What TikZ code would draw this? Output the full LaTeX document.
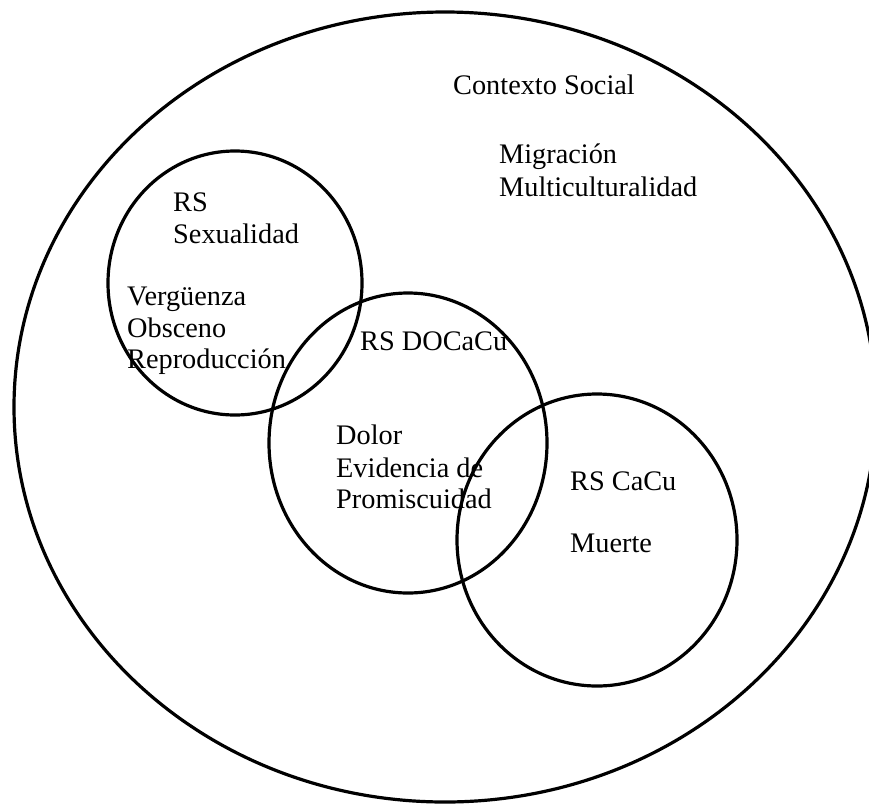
\documentclass[tikz,border=0pt]{standalone}
\usepackage{fontspec}
\setmainfont{Liberation Serif}
\usetikzlibrary{shapes.geometric}
\begin{document}
\begin{tikzpicture}[x=1pt,y=-1pt,
  ring/.style={draw,ellipse,line width=3.2pt,inner sep=0pt},
  lbl/.style={anchor=base west,inner sep=0pt,font=\fontsize{28.3}{32}\selectfont}]
\useasboundingbox (0,0) rectangle (869,806);
\node[ring,minimum width=862pt,minimum height=790pt] (ctx) at (445,407) {};
\node[ring,minimum width=254pt,minimum height=264pt] (sex) at (235,283) {};
\node[ring,minimum width=278pt,minimum height=300pt] (doc) at (408,443) {};
\node[ring,minimum width=280pt,minimum height=292pt] (cacu) at (597,540) {};
\node[lbl] (t1) at (453,94) {Contexto Social};
\node[lbl] (t2) at (499,163) {Migración};
\node[lbl] (t3) at (499,196) {Multiculturalidad};
\node[lbl] (t4) at (173,211) {RS};
\node[lbl] (t5) at (173,243) {Sexualidad};
\node[lbl] (t6) at (127,305) {Vergüenza};
\node[lbl] (t7) at (127,337) {Obsceno};
\node[lbl] (t8) at (127,368) {Reproducción};
\node[lbl] (t9) at (360,350) {RS DOCaCu};
\node[lbl] (t10) at (336,444) {Dolor};
\node[lbl] (t11) at (336,477) {Evidencia de};
\node[lbl] (t12) at (336,508) {Promiscuidad};
\node[lbl] (t13) at (570,490) {RS CaCu};
\node[lbl] (t14) at (570,552) {Muerte};
\end{tikzpicture}
\end{document}
